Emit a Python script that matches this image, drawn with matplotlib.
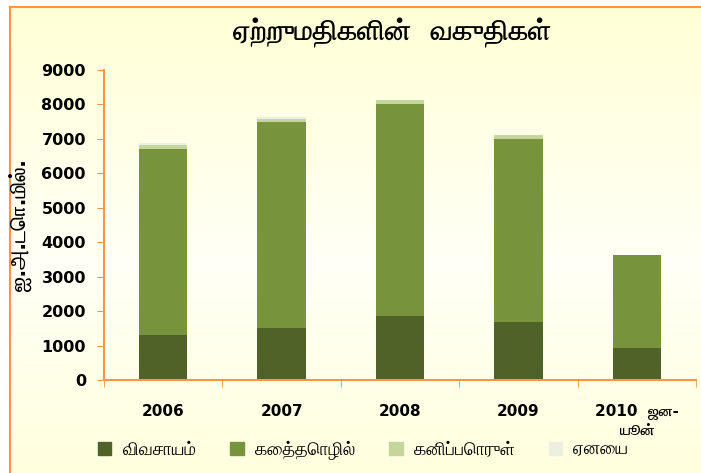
import numpy as np
import matplotlib
matplotlib.use("Agg")
import matplotlib.pyplot as plt
from matplotlib import font_manager
from matplotlib.ft2font import FT2Font
from matplotlib.patches import Patch

# data (US$ million)
years = ["2006", "2007", "2008", "2009", "2010  ஜன-\nயூன்"]
agriculture = [1300, 1500, 1850, 1680, 930]
industrial = [5400, 5990, 6160, 5320, 2700]
mineral = [120, 90, 120, 110, 0]
other = [60, 60, 0, 0, 0]

series_names = ["விவசாயம்", "கைத்தொழில்", "கனிப்பொருள்", "ஏனைய"]
colors = ["#4F6228", "#77933C", "#C3D69B", "#EBF1DE"]
title = "ஏற்றுமதிகளின்  வகுதிகள்"
ylabel = "ஐ.அ.டொ.மில்."


def find_tamil_font():
    found = []
    for f in font_manager.fontManager.ttflist:
        try:
            cm = FT2Font(f.fname).get_charmap()
        except Exception:
            continue
        if 0x0BA4 in cm and 0x0B95 in cm:
            found.append(f)
    if not found:
        return None
    # prefer a family that also has a bold face
    bold = [f.name for f in found if f.weight in ("bold", 700)]
    return bold[0] if bold else found[0].name


tamil = find_tamil_font()
fams = ["DejaVu Sans", tamil] if tamil else ["DejaVu Sans"]
plt.rcParams["font.family"] = fams

W, H = 701, 473
fig = plt.figure(figsize=(W / 100, H / 100), dpi=100)
fig.patch.set_facecolor("white")

# gradient background inside an orange frame
bg = fig.add_axes([10 / W, 0, 1 - 10 / W, 1 - 7 / H])
stops_y = [0.0, 0.55, 1.0]
stops_c = [np.array([255, 255, 214]), np.array([255, 255, 246]), np.array([255, 255, 222])]
yy = np.linspace(0, 1, 256)
grad = np.zeros((256, 1, 3))
for ch in range(3):
    grad[:, 0, ch] = np.interp(yy, stops_y, [c[ch] for c in stops_c]) / 255
bg.imshow(grad, aspect="auto", extent=[0, 1, 0, 1])
bg.set_xlim(0, 1)
bg.set_ylim(0, 1)
bg.set_xticks([])
bg.set_yticks([])
for s in ["right", "bottom"]:
    bg.spines[s].set_visible(False)
for s in ["left", "top"]:
    bg.spines[s].set_color("#F79646")
    bg.spines[s].set_linewidth(1.5)

ax = fig.add_axes([104 / W, 1 - 380 / H, (696 - 104) / W, (380 - 70) / H])
ax.patch.set_alpha(0)

x = np.arange(len(years))
bw = 0.41
bottom = np.zeros(len(years))
for vals, c, name in zip([agriculture, industrial, mineral, other], colors, series_names):
    ax.bar(x, vals, bw, bottom=bottom, color=c, label=name, zorder=2)
    bottom += np.array(vals)

ax.set_xlim(-0.5, len(years) - 0.5)
ax.set_ylim(0, 9000)
ax.set_yticks(np.arange(0, 9001, 1000))
ax.tick_params(axis="y", colors="#F79646", length=5, labelcolor="black",
               labelsize=11.5, pad=8)
for lab in ax.get_yticklabels():
    lab.set_fontweight("bold")

ax.set_xticks(x)
ax.set_xticklabels(years, fontsize=11, fontweight="bold", ha="center", va="top",
                   multialignment="center", linespacing=1.3)
ax.set_xticks(np.arange(-0.5, len(years)), minor=True)
ax.tick_params(axis="x", which="major", length=0, pad=17, labelcolor="black")
ax.tick_params(axis="x", which="minor", length=5, color="#F79646")

for s in ["top", "right"]:
    ax.spines[s].set_visible(False)
for s in ["left", "bottom"]:
    ax.spines[s].set_color("#F79646")
    ax.spines[s].set_linewidth(1.5)

ax.set_ylabel(ylabel, fontsize=15, fontweight="bold")
ax.yaxis.set_label_coords(-0.122, 0.5)

fig.text(392 / W, 1 - 33 / H, title, ha="center", va="center",
         fontsize=20.5, fontweight="bold")

handles = [Patch(color=c, label=n) for c, n in zip(colors, series_names)]
fig.legend(handles=handles, loc="center", bbox_to_anchor=(363 / W, 1 - 450 / H),
           ncol=4, frameon=False, fontsize=13, handlelength=0.75, handleheight=0.75,
           columnspacing=1.9, handletextpad=0.6)

fig.savefig("out.png", dpi=100)
